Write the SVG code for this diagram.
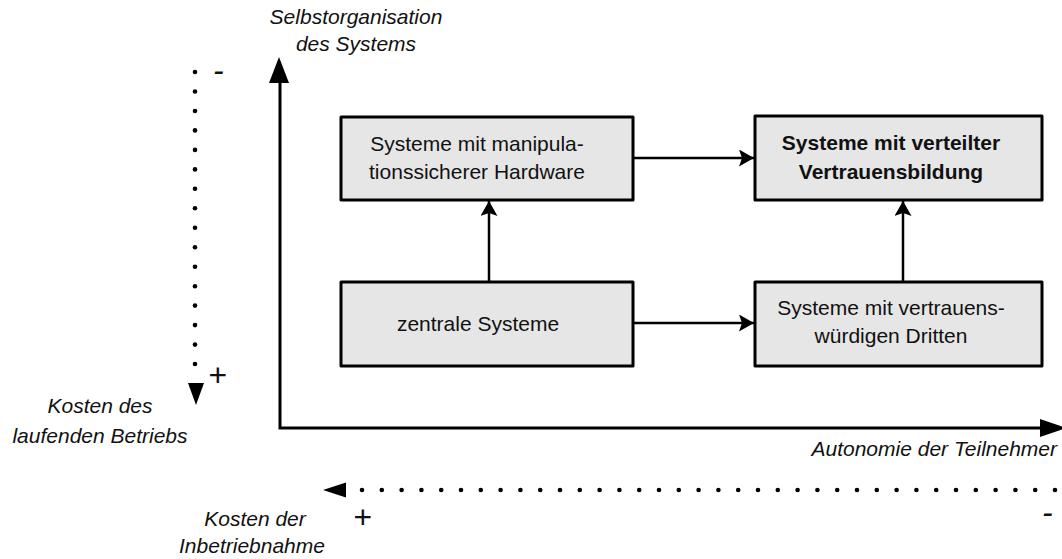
<svg xmlns="http://www.w3.org/2000/svg" width="1062" height="559" viewBox="0 0 1062 559">
  <style>
    .box { fill: #e6e6e6; stroke: #000; stroke-width: 3; stroke-linejoin: round; }
    .txt { font-family: "Liberation Sans", Arial, sans-serif; font-size: 21px; fill: #111; }
    .bold { font-weight: bold; }
    .lbl { font-family: "Liberation Sans", Arial, sans-serif; font-size: 21px; font-style: italic; fill: #111; }
    .sign { font-family: "Liberation Sans", Arial, sans-serif; font-size: 32px; font-style: italic; fill: #111; }
    .axis { stroke: #000; stroke-width: 3; fill: none; }
    .conn { stroke: #000; stroke-width: 2.5; fill: none; }
    .dot { fill: #000; }
  </style>
  <defs>
    <marker id="arrow" markerUnits="userSpaceOnUse" markerWidth="16" markerHeight="18" refX="15" refY="8.5" orient="auto">
      <path d="M0,0 L15,8.5 L0,17 L3,8.5 Z" fill="#000"/>
    </marker>
    <circle id="d" r="2.3" class="dot"/>
  </defs>

  <!-- axes -->
  <g id="axes">
    <path class="axis" d="M280,80 L280,428 L1042,428"/>
    <path d="M279,57 L269,83 L289,83 Z" fill="#000"/>
    <path d="M1066,428 L1040,419 L1040,437 Z" fill="#000"/>
    <text class="lbl" x="356" y="24" text-anchor="middle">Selbstorganisation</text>
    <text class="lbl" x="356" y="51" text-anchor="middle">des Systems</text>
    <text class="lbl" x="1057" y="456" text-anchor="end">Autonomie der Teilnehmer</text>
  </g>

  <!-- running-cost scale (vertical, dotted) -->
  <g id="scale-betrieb">
    <g>
      <use href="#d" x="195" y="72"/><use href="#d" x="195" y="91.5"/><use href="#d" x="195" y="111"/>
      <use href="#d" x="195" y="130.4"/><use href="#d" x="195" y="149.9"/><use href="#d" x="195" y="169.4"/>
      <use href="#d" x="195" y="188.8"/><use href="#d" x="195" y="208.3"/><use href="#d" x="195" y="227.8"/>
      <use href="#d" x="195" y="247.2"/><use href="#d" x="195" y="266.7"/><use href="#d" x="195" y="286.2"/>
      <use href="#d" x="195" y="305.6"/><use href="#d" x="195" y="325.1"/><use href="#d" x="195" y="344.6"/>
      <use href="#d" x="195" y="364"/>
    </g>
    <path d="M196,405 L188,383 L204,383 Z" fill="#000"/>
    <text class="sign" x="213" y="81">-</text>
    <text class="sign" x="208" y="386">+</text>
    <text class="lbl" x="100" y="413" text-anchor="middle">Kosten des</text>
    <text class="lbl" x="100" y="443" text-anchor="middle">laufenden Betriebs</text>
  </g>

  <!-- set-up-cost scale (horizontal, dotted) -->
  <g id="scale-inbetriebnahme">
    <g>
      <use href="#d" x="362" y="490"/><use href="#d" x="381.8" y="490"/><use href="#d" x="401.6" y="490"/>
      <use href="#d" x="421.4" y="490"/><use href="#d" x="441.2" y="490"/><use href="#d" x="461" y="490"/>
      <use href="#d" x="480.8" y="490"/><use href="#d" x="500.6" y="490"/><use href="#d" x="520.4" y="490"/>
      <use href="#d" x="540.2" y="490"/><use href="#d" x="560" y="490"/><use href="#d" x="579.8" y="490"/>
      <use href="#d" x="599.6" y="490"/><use href="#d" x="619.4" y="490"/><use href="#d" x="639.2" y="490"/>
      <use href="#d" x="659" y="490"/><use href="#d" x="678.8" y="490"/><use href="#d" x="698.6" y="490"/>
      <use href="#d" x="718.4" y="490"/><use href="#d" x="738.2" y="490"/><use href="#d" x="758" y="490"/>
      <use href="#d" x="777.8" y="490"/><use href="#d" x="797.6" y="490"/><use href="#d" x="817.4" y="490"/>
      <use href="#d" x="837.2" y="490"/><use href="#d" x="857" y="490"/><use href="#d" x="876.8" y="490"/>
      <use href="#d" x="896.6" y="490"/><use href="#d" x="916.4" y="490"/><use href="#d" x="936.2" y="490"/>
      <use href="#d" x="956" y="490"/><use href="#d" x="975.8" y="490"/><use href="#d" x="995.6" y="490"/>
      <use href="#d" x="1015.4" y="490"/><use href="#d" x="1035.2" y="490"/><use href="#d" x="1055" y="490"/>
    </g>
    <path d="M323,490 L346,482.5 L346,497.5 Z" fill="#000"/>
    <text class="sign" x="353" y="528">+</text>
    <text class="sign" x="1042" y="523">-</text>
    <text class="lbl" x="255" y="526" text-anchor="middle">Kosten der</text>
    <text class="lbl" x="252" y="553" text-anchor="middle">Inbetriebnahme</text>
  </g>

  <!-- connectors -->
  <g id="connectors">
    <path class="conn" d="M633,158 L754,158" marker-end="url(#arrow)"/>
    <path class="conn" d="M633,323 L754,323" marker-end="url(#arrow)"/>
    <path class="conn" d="M489,282 L489,201" marker-end="url(#arrow)"/>
    <path class="conn" d="M903,282 L903,201" marker-end="url(#arrow)"/>
  </g>

  <!-- nodes -->
  <g id="node-manipulation">
    <rect class="box" x="341" y="117" width="292" height="83"/>
    <text class="txt" x="477" y="151" text-anchor="middle">Systeme mit manipula-</text>
    <text class="txt" x="477" y="179" text-anchor="middle">tionssicherer Hardware</text>
  </g>
  <g id="node-verteilt">
    <rect class="box" x="755" y="116" width="287" height="84"/>
    <text class="txt bold" x="891" y="150" text-anchor="middle">Systeme mit verteilter</text>
    <text class="txt bold" x="891" y="179" text-anchor="middle">Vertrauensbildung</text>
  </g>
  <g id="node-zentral">
    <rect class="box" x="341" y="282" width="292" height="84"/>
    <text class="txt" x="478" y="331" text-anchor="middle">zentrale Systeme</text>
  </g>
  <g id="node-dritte">
    <rect class="box" x="755" y="282" width="287" height="84"/>
    <text class="txt" x="891" y="315" text-anchor="middle">Systeme mit vertrauens-</text>
    <text class="txt" x="891" y="343" text-anchor="middle">würdigen Dritten</text>
  </g>
</svg>
